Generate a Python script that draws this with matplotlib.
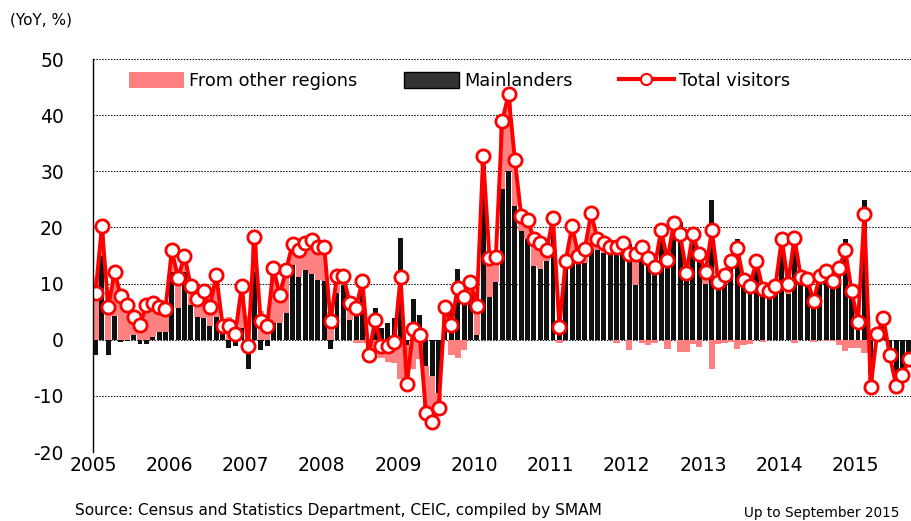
import numpy as np
import matplotlib
matplotlib.use("Agg")
import matplotlib.pyplot as plt
from matplotlib.patches import Patch
from matplotlib.lines import Line2D

# Monthly data, Jan 2005 - Sep 2015 (YoY, %)
total = [
    8.4, 20.2, 5.9, 12.0, 7.7, 6.1, 4.1, 2.7, 6.1, 6.6, 5.9, 5.5,          # 2005
    15.9, 11.0, 15.0, 9.5, 7.3, 8.6, 5.9, 11.5, 2.5, 2.5, 1.1, 9.5,        # 2006
    -1.1, 18.3, 3.3, 2.4, 12.7, 7.9, 12.5, 17.0, 16.0, 17.2, 17.8, 16.5,   # 2007
    16.5, 3.3, 11.3, 11.3, 6.6, 5.7, 10.5, -2.8, 3.6, -1.2, -1.1, -0.4,    # 2008
    11.1, -7.9, 1.9, 0.9, -13.1, -14.7, -12.1, 5.9, 2.7, 9.3, 7.6, 10.3,   # 2009
    6.0, 32.7, 14.5, 14.7, 39.0, 43.7, 32.0, 22.0, 21.3, 18.0, 17.3, 16.0, # 2010
    21.7, 2.3, 14.1, 20.2, 15.0, 16.2, 22.5, 17.9, 17.2, 16.5, 16.6, 17.3, # 2011
    15.2, 15.3, 16.5, 14.6, 12.9, 19.5, 14.2, 20.7, 18.8, 11.9, 18.8, 15.2,# 2012
    12.0, 19.5, 10.3, 11.5, 14.1, 16.3, 10.6, 9.5, 14.0, 9.1, 8.7, 9.5,    # 2013
    18.0, 10.0, 18.2, 11.1, 10.8, 6.9, 11.4, 12.2, 10.4, 12.7, 15.9, 8.6,  # 2014
    3.1, 22.4, -8.4, 1.1, 3.9, -2.8, -8.2, -6.3, -3.5,                     # 2015
]

mainland = [
    -2.8, 15.0, -2.8, 4.2, -0.4, -0.3, 0.9, -0.8, -0.8, 0.5, 1.4, 1.3,
    12.0, 5.6, 12.0, 6.2, 4.1, 3.8, 2.4, 4.1, 2.4, -1.5, -1.2, 2.0,
    -5.3, 12.0, -1.8, -1.1, 2.9, 2.9, 4.7, 13.3, 11.2, 12.5, 11.7, 10.7,
    10.5, -1.7, 8.3, 9.8, 3.6, 6.2, 11.0, -2.0, 5.6, 2.0, 2.9, 3.8,
    18.1, -1.0, 7.2, 4.4, -4.7, -6.5, -9.5, 2.0, 5.5, 12.6, 9.4, 8.2,
    0.8, 31.0, 7.6, 10.3, 26.8, 30.0, 23.8, 19.4, 17.9, 13.2, 12.6, 14.1,
    20.5, 2.8, 13.0, 14.4, 13.6, 13.6, 16.2, 15.9, 15.5, 15.6, 17.1, 16.5,
    17.0, 9.7, 17.0, 15.5, 13.5, 18.5, 15.8, 20.0, 20.9, 14.0, 19.5, 16.5,
    10.0, 24.8, 11.0, 12.0, 14.5, 17.9, 11.5, 10.2, 14.0, 9.5, 7.3, 9.5,
    17.8, 8.1, 18.8, 11.0, 10.8, 7.3, 11.4, 12.5, 10.6, 13.6, 17.9, 10.0,
    4.5, 24.8, -6.0, 0.5, 3.5, -2.8, -6.0, -5.5, -3.5,
]

others = [
    11.2, 5.2, 8.7, 7.8, 8.1, 6.4, 3.2, 3.5, 6.9, 6.1, 4.5, 4.2,
    3.9, 5.4, 3.0, 3.3, 3.2, 4.8, 3.5, 7.4, 0.1, 4.0, 2.3, 7.5,
    4.2, 6.3, 5.1, 3.5, 9.8, 5.0, 7.8, 3.7, 4.8, 4.7, 6.1, 5.8,
    6.0, 5.0, 3.0, 1.5, 3.0, -0.5, -0.5, -0.8, -2.0, -3.2, -4.0, -4.2,
    -7.0, -6.9, -5.3, -3.5, -8.4, -8.2, -2.6, 3.9, -2.8, -3.3, -1.8, 2.1,
    5.2, 1.7, 6.9, 4.4, 12.2, 13.7, 8.2, 2.6, 3.4, 4.8, 4.7, 1.9,
    1.2, -0.5, 1.1, 5.8, 1.4, 2.6, 6.3, 2.0, 1.7, 0.9, -0.5, 0.8,
    -1.8, 5.6, -0.5, -0.9, -0.6, 1.0, -1.6, 0.7, -2.1, -2.1, -0.7, -1.3,
    2.0, -5.3, -0.7, -0.5, -0.4, -1.6, -0.9, -0.7, 0.0, -0.4, 1.4, 0.0,
    0.2, 1.9, -0.6, 0.1, 0.0, -0.4, 0.0, -0.3, -0.2, -0.9, -2.0, -1.4,
    -1.4, -2.4, -2.4, 0.6, 0.4, 0.0, -2.2, -0.8, 0.0,
]

year_labels = ["2005", "2006", "2007", "2008", "2009", "2010",
               "2011", "2012", "2013", "2014", "2015"]
y_ticks = [50, 40, 30, 20, 10, 0, -10, -20]

total_a = np.array(total)
main_a = np.array(mainland)
oth_a = np.array(others)
x = np.arange(len(total_a))

plt.rcParams['font.family'] = ['DejaVu Sans']

fig = plt.figure(figsize=(9.12, 5.21), dpi=100)
ax = fig.add_axes([93/912, 1-452/521, (912-93)/912, (452-59)/521])

PINK = '#FF8080'
RED = '#FF0000'

# stacking: same-sign parts stack on top of mainland bar
same_sign = (oth_a >= 0) == (main_a >= 0)
pink_bottom = np.where(same_sign, main_a, 0.0)

ax.bar(x, main_a, width=0.78, color='#111111', zorder=2, linewidth=0)
ax.bar(x, oth_a, bottom=pink_bottom, width=1.0, color=PINK, zorder=2, linewidth=0)

ax.plot(x, total_a, color=RED, lw=2.8, marker='o', markersize=9.5,
        markerfacecolor='white', markeredgecolor=RED, markeredgewidth=2.0,
        zorder=4)

ax.set_ylim(-20, 50)
ax.set_xlim(-0.3, 128.5)
ax.set_yticks(y_ticks)
ax.set_yticklabels([str(v) for v in y_ticks])
for v in y_ticks:
    ax.axhline(v, color='black', lw=0.7, ls=(0, (1.5, 1.5)), zorder=1)

ax.set_xticks([12*i - 0.4 for i in range(len(year_labels))])
ax.set_xticklabels(year_labels)
ax.tick_params(axis='both', length=0, labelsize=13.5)
ax.tick_params(axis='y', pad=21)
ax.tick_params(axis='x', pad=3)

for s in ['top', 'right', 'bottom']:
    ax.spines[s].set_visible(False)
ax.spines['left'].set_color('black')
ax.spines['left'].set_linewidth(1.0)
ax.spines['left'].set_zorder(5)

handles = [
    Patch(facecolor=PINK, edgecolor='none'),
    Patch(facecolor='#333333', edgecolor='black', linewidth=1.0),
    Line2D([0], [0], color=RED, lw=3, marker='o', markersize=8,
           markerfacecolor='white', markeredgecolor=RED, markeredgewidth=1.5),
]
leg = ax.legend(handles, ["From other regions", "Mainlanders", "Total visitors"],
                loc='center left', bbox_to_anchor=(0.035, 0.944), ncol=3,
                frameon=False, fontsize=12.8, handlelength=3.1,
                handleheight=1.0, handletextpad=0.3, columnspacing=2.6,
                borderaxespad=0)
leg.set_zorder(6)

fig.text(10/912, 1-20/521, "(YoY, %)", fontsize=11, va='center', ha='left')
fig.text(75/912, 1-511/521,
         "Source: Census and Statistics Department, CEIC, compiled by SMAM",
         fontsize=11.1, va='center', ha='left')
fig.text(900/912, 1-513/521, "Up to September 2015",
         fontsize=9.8, va='center', ha='right')

fig.savefig("out.png", dpi=100)
